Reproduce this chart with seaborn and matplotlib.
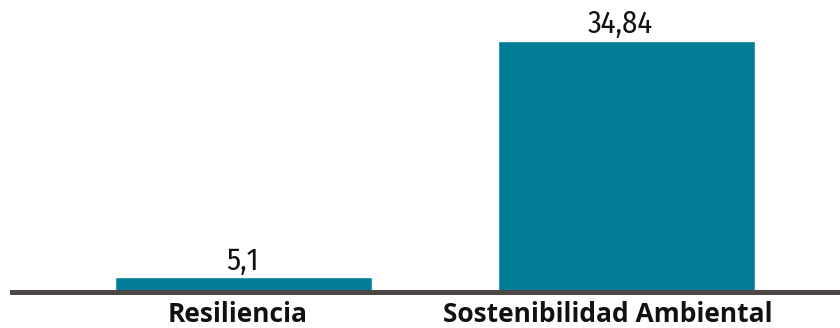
import matplotlib
matplotlib.use("Agg")
import matplotlib.pyplot as plt
import matplotlib.transforms as mtransforms
import seaborn as sns
import pandas as pd

categorias = ["Resiliencia", "Sostenibilidad Ambiental"]
valores = [5.1, 34.84]
etiquetas = ["5,1", "34,84"]

sns.set_theme(style="white")
plt.rcParams["font.family"] = ["Open Sans", "DejaVu Sans"]

df = pd.DataFrame({"categoria": categorias, "valor": valores})

fig = plt.figure(figsize=(8.4, 3.28), dpi=100)
ax = fig.add_axes([12 / 840, (328 - 291.5) / 328, 828 / 840, 291.5 / 328])

sns.barplot(data=df, x="categoria", y="valor", color="#017d97", saturation=1,
            width=0.671, ax=ax)

# value labels above each bar, slightly nudged left
nudges_val = [-1, -6]
for i, (v, t) in enumerate(zip(valores, etiquetas)):
    ax.annotate(t, (i, v), xytext=(nudges_val[i] * 0.72, 1), textcoords="offset points",
                ha="center", va="bottom", fontsize=22, color="#111111",
                family=["Fira Sans Condensed", "Roboto Condensed", "DejaVu Sans"])

ax.set_xlim(-0.604, 1.557)
ax.set_ylim(3.31, 40.0)
ax.set_xlabel("")
ax.set_ylabel("")
ax.set_yticks([])
ax.tick_params(axis="x", length=0, pad=6.5)

# category labels sit a little left of the bar centres
nudges_cat = [-6, -19]
for lbl, dx in zip(ax.get_xticklabels(), nudges_cat):
    lbl.set_fontsize(19)
    lbl.set_fontweight("bold")
    lbl.set_color("#111111")
    lbl.set_transform(lbl.get_transform() +
                      mtransforms.ScaledTranslation(dx / 100, 0, fig.dpi_scale_trans))

for s in ["top", "right", "left"]:
    ax.spines[s].set_visible(False)
ax.spines["bottom"].set_color("#4d4845")
ax.spines["bottom"].set_linewidth(3.6)
ax.patch.set_alpha(0)

fig.savefig("out.png", dpi=100)
